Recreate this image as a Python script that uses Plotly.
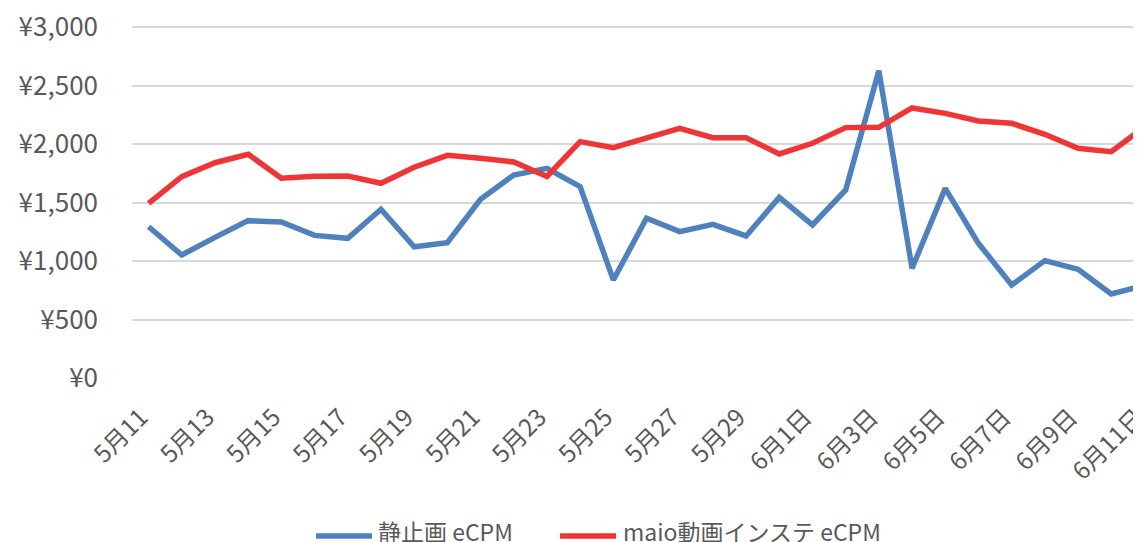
import plotly.graph_objects as go

# Categories (one late-May day is absent from the source data)
dates = ["5月11", "5月12", "5月13", "5月14", "5月15", "5月16", "5月17", "5月18",
         "5月19", "5月20", "5月21", "5月22", "5月23", "5月24", "5月25", "5月26",
         "5月27", "5月28", "5月29", "5月30",
         "6月1日", "6月2日", "6月3日", "6月4日", "6月5日", "6月6日", "6月7日",
         "6月8日", "6月9日", "6月10日", "6月11日"]

static_ecpm = [1293, 1051, 1202, 1345, 1333, 1219, 1194, 1442, 1122, 1157, 1527,
               1735, 1792, 1635, 838, 1365, 1251, 1313, 1214, 1544, 1308, 1607,
               2627, 937, 1621, 1151, 795, 1003, 929, 718, 790]

maio_ecpm = [1493, 1721, 1840, 1912, 1707, 1724, 1726, 1664, 1801, 1903, 1878,
             1846, 1723, 2020, 1968, 2048, 2134, 2054, 2054, 1915, 2006, 2140,
             2143, 2308, 2262, 2197, 2177, 2083, 1963, 1934, 2145]

series_names = ["静止画 eCPM", "maio動画インステ eCPM"]
series_colors = ["#4F81BD", "#EE3636"]

y_ticks = [0, 500, 1000, 1500, 2000, 2500, 3000]
y_labels = ["¥0", "¥500", "¥1,000", "¥1,500", "¥2,000", "¥2,500", "¥3,000"]

FONT = "Noto Sans CJK JP, Noto Sans, sans-serif"
GREY = "#595959"

# The page body adds an 8px offset. As in the original (a cropped chart), the
# plot area runs past the right edge of the window.
OFF = 8
M_L, M_T, M_B, M_R = 132 - OFF, 15, 164, 8
CAT_W = 33.19
PW = CAT_W * len(dates)
W = int(round(M_L + PW + M_R))
H = 542 - OFF
PH = H - M_T - M_B
# y=0 at plot bottom, y=3000 lies 351px above it
y_top = 3000 * PH / 351


def px_x(p):  # screen px -> paper
    return (p - OFF - M_L) / PW


def px_y(q):
    return (H - M_B - (q - OFF)) / PH


fig = go.Figure()
for vals, name, col in zip([static_ecpm, maio_ecpm], series_names, series_colors):
    fig.add_trace(go.Scatter(x=dates, y=vals, mode="lines", name=name,
                             line=dict(color=col, width=5.5), showlegend=False))

# legend drawn manually (long line samples like the original)
legend_items = [(316, 372, 376), (560, 616, 621)]
leg_line_y, leg_text_y = 536, 531
for (x0, x1, xt), name, col in zip(legend_items, series_names, series_colors):
    fig.add_shape(type="line", xref="paper", yref="paper",
                  x0=px_x(x0), x1=px_x(x1), y0=px_y(leg_line_y), y1=px_y(leg_line_y),
                  line=dict(color=col, width=5.5))
    fig.add_annotation(xref="paper", yref="paper", x=px_x(xt), y=px_y(leg_text_y),
                       text=name, showarrow=False, xanchor="left", yanchor="middle",
                       font=dict(family=FONT, size=23, color=GREY))

tick_dates = dates[::2]
# trailing no-break spaces nudge the rotated labels along their slant
tick_text = [d + "\u00a0\u00a0" for d in tick_dates]

fig.update_layout(
    width=W, height=H,
    margin=dict(l=M_L, r=M_R, t=M_T, b=M_B, pad=0, autoexpand=False),
    paper_bgcolor="white", plot_bgcolor="white",
    font=dict(family=FONT, color=GREY),
    showlegend=False,
    xaxis=dict(type="category", range=[-0.5, len(dates) - 0.5], tickmode="array",
               tickvals=tick_dates, ticktext=tick_text, tickangle=-45,
               tickfont=dict(family=FONT, size=24, color=GREY),
               showgrid=False, showline=False, zeroline=False, ticks="",
               ticklabelstandoff=12, automargin=False, ticklabeloverflow="allow"),
    yaxis=dict(range=[0, y_top], tickmode="array", tickvals=y_ticks, ticktext=y_labels,
               tickfont=dict(family=FONT, size=26, color=GREY),
               showgrid=True, gridcolor="#D9D9D9", gridwidth=1.5,
               zeroline=False, showline=False, ticks="", ticklabelstandoff=33,
               automargin=False, ticklabeloverflow="allow"),
)

fig.write_html("out.html")
